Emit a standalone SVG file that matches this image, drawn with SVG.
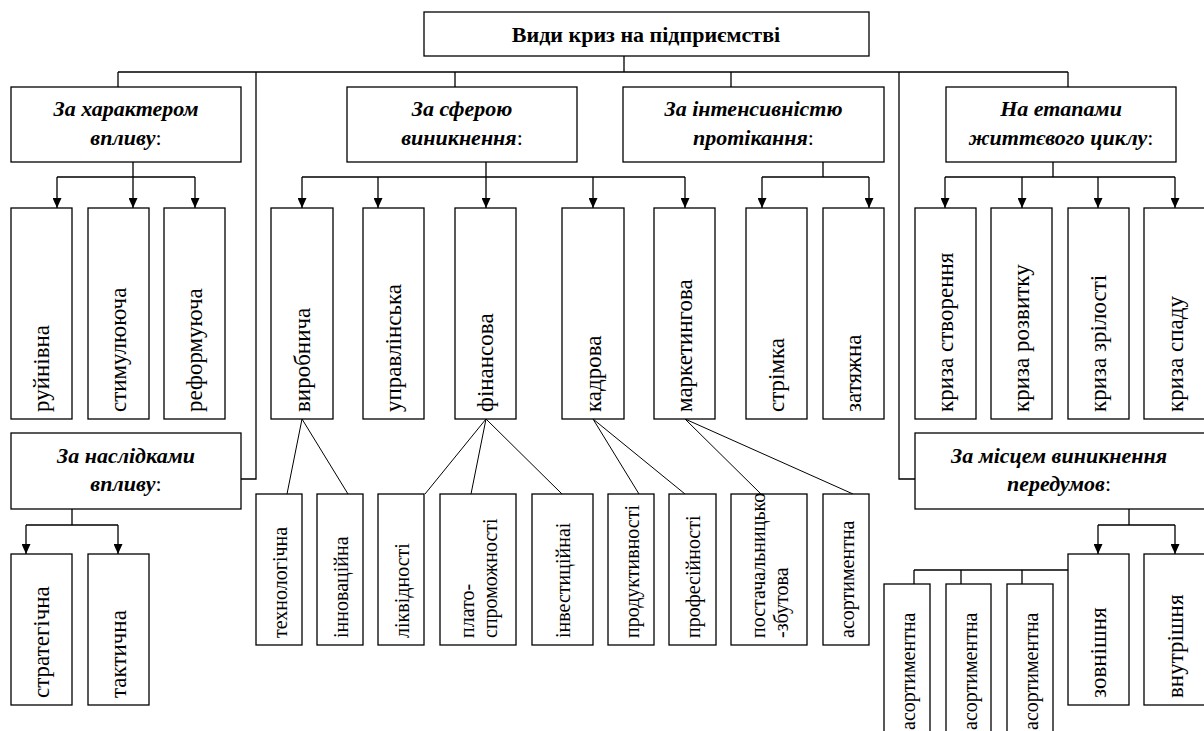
<svg xmlns="http://www.w3.org/2000/svg" width="1204" height="731" viewBox="0 0 1204 731">
<defs>
<marker id="ah" viewBox="0 0 10 9" refX="10" refY="4.5" markerWidth="10" markerHeight="9" markerUnits="userSpaceOnUse" orient="auto">
<path d="M0,0 L10,4.5 L0,9 z" fill="#000"/>
</marker>
<style>
.box{fill:#fff;stroke:#000;stroke-width:1.3}
.ln{fill:none;stroke:#000;stroke-width:1.3}
.ar{fill:none;stroke:#000;stroke-width:1.3;marker-end:url(#ah)}
.dg{fill:none;stroke:#000;stroke-width:1}
</style>
</defs>
<rect x="0" y="0" width="1204" height="731" fill="#fff"/>
<g id="connectors">
<path class="ln" d="M624,56 V72 M118,72 H1068 M118,72 V87 M455,72 V87 M731,72 V87 M1068,72 V87 M256,72 V479 H241 M899,72 V479 H915"/>
<path class="ln" d="M133,162 V177 M57,177 H195 M486,162 V177 M302,177 H685 M823,162 V177 M762,177 H869 M1053,162 V177 M945,177 H1175 M72,509 V525 M26,525 H118 M1129,509 V525 M1098,525 H1175 M914,570 H1068 M914,570 V584 M961,570 V584 M1022,570 V584"/>
<path class="ar" d="M57,177 V208"/><path class="ar" d="M133,177 V208"/><path class="ar" d="M195,177 V208"/>
<path class="ar" d="M302,177 V208"/><path class="ar" d="M378,177 V208"/><path class="ar" d="M486,177 V208"/><path class="ar" d="M593,177 V208"/><path class="ar" d="M685,177 V208"/>
<path class="ar" d="M762,177 V208"/><path class="ar" d="M869,177 V208"/>
<path class="ar" d="M945,177 V208"/><path class="ar" d="M1022,177 V208"/><path class="ar" d="M1098,177 V208"/><path class="ar" d="M1175,177 V208"/>
<path class="ar" d="M26,525 V554"/><path class="ar" d="M118,525 V554"/>
<path class="ar" d="M1098,525 V554"/><path class="ar" d="M1175,525 V554"/>
<path class="dg" d="M302,419 L287,494 M302,419 L348,494 M486,419 L425,494 M486,419 L471,494 M486,419 L562,494 M593,419 L639,494 M593,419 L685,494 M685,419 L761,494 M685,419 L853,494"/>
</g>
<g id="root"><rect class="box" x="424" y="12" width="445" height="44"/><text font-family="Liberation Serif" font-size="22" font-weight="bold" text-anchor="middle" x="646" y="42">Види криз на підприємстві</text></g>
<g id="cat-character"><rect class="box" x="11" y="87" width="230" height="75"/><text font-family="Liberation Serif" font-size="22" font-weight="bold" font-style="italic" text-anchor="middle"><tspan x="126" y="116">За характером</tspan><tspan x="126" y="145">впливу<tspan font-weight="normal" font-style="normal">:</tspan></tspan></text></g>
<g id="cat-sphere"><rect class="box" x="347" y="87" width="230" height="75"/><text font-family="Liberation Serif" font-size="22" font-weight="bold" font-style="italic" text-anchor="middle"><tspan x="462" y="116">За сферою</tspan><tspan x="462" y="145">виникнення<tspan font-weight="normal" font-style="normal">:</tspan></tspan></text></g>
<g id="cat-intensity"><rect class="box" x="623" y="87" width="261" height="75"/><text font-family="Liberation Serif" font-size="22" font-weight="bold" font-style="italic" text-anchor="middle"><tspan x="753.5" y="116">За інтенсивністю</tspan><tspan x="753.5" y="145">протікання<tspan font-weight="normal" font-style="normal">:</tspan></tspan></text></g>
<g id="cat-lifecycle"><rect class="box" x="946" y="87" width="230" height="75"/><text font-family="Liberation Serif" font-size="22" font-weight="bold" font-style="italic" text-anchor="middle"><tspan x="1061" y="116">На етапами</tspan><tspan x="1061" y="145">життєвого циклу<tspan font-weight="normal" font-style="normal">:</tspan></tspan></text></g>
<g id="cat-consequences"><rect class="box" x="11" y="433" width="230" height="76"/><text font-family="Liberation Serif" font-size="22" font-weight="bold" font-style="italic" text-anchor="middle"><tspan x="126" y="463">За наслідками</tspan><tspan x="126" y="491">впливу<tspan font-weight="normal" font-style="normal">:</tspan></tspan></text></g>
<g id="cat-place"><rect class="box" x="915" y="433" width="291" height="76"/><text font-family="Liberation Serif" font-size="22" font-weight="bold" font-style="italic" text-anchor="middle"><tspan x="1059" y="463">За місцем виникнення</tspan><tspan x="1059" y="491">передумов<tspan font-weight="normal" font-style="normal">:</tspan></tspan></text></g>
<g id="n-ruinivna"><rect class="box" x="11" y="208" width="61" height="211"/><text font-family="Liberation Serif" font-size="23" dominant-baseline="central" transform="translate(41.5,412) rotate(-90)">руйнівна</text></g>
<g id="n-stymul"><rect class="box" x="88" y="208" width="61" height="211"/><text font-family="Liberation Serif" font-size="23" dominant-baseline="central" transform="translate(118.5,412) rotate(-90)">стимулююча</text></g>
<g id="n-reform"><rect class="box" x="164" y="208" width="61" height="211"/><text font-family="Liberation Serif" font-size="23" dominant-baseline="central" transform="translate(194.5,412) rotate(-90)">реформуюча</text></g>
<g id="n-vyrob"><rect class="box" x="271" y="208" width="62" height="211"/><text font-family="Liberation Serif" font-size="23" dominant-baseline="central" transform="translate(302,412) rotate(-90)">виробнича</text></g>
<g id="n-uprav"><rect class="box" x="363" y="208" width="61" height="211"/><text font-family="Liberation Serif" font-size="23" dominant-baseline="central" transform="translate(393.5,412) rotate(-90)">управлінська</text></g>
<g id="n-fin"><rect class="box" x="455" y="208" width="61" height="211"/><text font-family="Liberation Serif" font-size="23" dominant-baseline="central" transform="translate(485.5,412) rotate(-90)">фінансова</text></g>
<g id="n-kadr"><rect class="box" x="562" y="208" width="62" height="211"/><text font-family="Liberation Serif" font-size="23" dominant-baseline="central" transform="translate(593,412) rotate(-90)">кадрова</text></g>
<g id="n-market"><rect class="box" x="654" y="208" width="61" height="211"/><text font-family="Liberation Serif" font-size="23" dominant-baseline="central" transform="translate(684.5,412) rotate(-90)">маркетингова</text></g>
<g id="n-strimka"><rect class="box" x="746" y="208" width="61" height="211"/><text font-family="Liberation Serif" font-size="23" dominant-baseline="central" transform="translate(776.5,412) rotate(-90)">стрімка</text></g>
<g id="n-zatyazhna"><rect class="box" x="823" y="208" width="61" height="211"/><text font-family="Liberation Serif" font-size="23" dominant-baseline="central" transform="translate(853.5,412) rotate(-90)">затяжна</text></g>
<g id="n-stvor"><rect class="box" x="915" y="208" width="61" height="211"/><text font-family="Liberation Serif" font-size="23" dominant-baseline="central" transform="translate(945.5,412) rotate(-90)">криза створення</text></g>
<g id="n-rozv"><rect class="box" x="991" y="208" width="61" height="211"/><text font-family="Liberation Serif" font-size="23" dominant-baseline="central" transform="translate(1021.5,412) rotate(-90)">криза розвитку</text></g>
<g id="n-zril"><rect class="box" x="1068" y="208" width="61" height="211"/><text font-family="Liberation Serif" font-size="23" dominant-baseline="central" transform="translate(1098.5,412) rotate(-90)">криза зрілості</text></g>
<g id="n-spad"><rect class="box" x="1144" y="208" width="62" height="211"/><text font-family="Liberation Serif" font-size="23" dominant-baseline="central" transform="translate(1175,412) rotate(-90)">криза спаду</text></g>
<g id="n-strat"><rect class="box" x="11" y="554" width="61" height="151"/><text font-family="Liberation Serif" font-size="23" dominant-baseline="central" transform="translate(41.5,698) rotate(-90)">стратегічна</text></g>
<g id="n-takt"><rect class="box" x="88" y="554" width="61" height="151"/><text font-family="Liberation Serif" font-size="23" dominant-baseline="central" transform="translate(118.5,698) rotate(-90)">тактична</text></g>
<g id="n-zovn"><rect class="box" x="1068" y="554" width="61" height="151"/><text font-family="Liberation Serif" font-size="23" dominant-baseline="central" transform="translate(1098.5,698) rotate(-90)">зовнішня</text></g>
<g id="n-vnutr"><rect class="box" x="1144" y="554" width="62" height="151"/><text font-family="Liberation Serif" font-size="23" dominant-baseline="central" transform="translate(1175,698) rotate(-90)">внутрішня</text></g>
<g id="n-tekhn"><rect class="box" x="256" y="494" width="46" height="151"/><text font-family="Liberation Serif" font-size="20" dominant-baseline="central" transform="translate(280,638) rotate(-90)">технологічна</text></g>
<g id="n-innov"><rect class="box" x="317" y="494" width="46" height="151"/><text font-family="Liberation Serif" font-size="20" dominant-baseline="central" transform="translate(341,638) rotate(-90)">інноваційна</text></g>
<g id="n-likv"><rect class="box" x="378" y="494" width="46" height="151"/><text font-family="Liberation Serif" font-size="20" dominant-baseline="central" transform="translate(402,638) rotate(-90)">ліквідності</text></g>
<g id="n-plato"><rect class="box" x="440" y="494" width="76" height="151"/><text font-family="Liberation Serif" font-size="20" dominant-baseline="central" transform="translate(478,638) rotate(-90)"><tspan x="0" y="-11">плато-</tspan><tspan x="0" y="12">спроможності</tspan></text></g>
<g id="n-invest"><rect class="box" x="532" y="494" width="61" height="151"/><text font-family="Liberation Serif" font-size="20" dominant-baseline="central" transform="translate(563,638) rotate(-90)">інвестиційнаі</text></g>
<g id="n-prod"><rect class="box" x="608" y="494" width="46" height="151"/><text font-family="Liberation Serif" font-size="20" dominant-baseline="central" transform="translate(632,638) rotate(-90)">продуктивності</text></g>
<g id="n-prof"><rect class="box" x="669" y="494" width="47" height="151"/><text font-family="Liberation Serif" font-size="20" dominant-baseline="central" transform="translate(693,638) rotate(-90)">професійності</text></g>
<g id="n-postach"><rect class="box" x="731" y="494" width="76" height="151"/><text font-family="Liberation Serif" font-size="20" dominant-baseline="central" transform="translate(769,638) rotate(-90)"><tspan x="0" y="-11">постачальницько</tspan><tspan x="0" y="12">-збутова</tspan></text></g>
<g id="n-asort"><rect class="box" x="823" y="494" width="46" height="151"/><text font-family="Liberation Serif" font-size="20" dominant-baseline="central" transform="translate(847,638) rotate(-90)">асортиментна</text></g>
<g id="n-asort1"><rect class="box" x="884" y="584" width="46" height="160"/><text font-family="Liberation Serif" font-size="20" dominant-baseline="central" transform="translate(908,730) rotate(-90)">асортиментна</text></g>
<g id="n-asort2"><rect class="box" x="946" y="584" width="45" height="160"/><text font-family="Liberation Serif" font-size="20" dominant-baseline="central" transform="translate(969.5,730) rotate(-90)">асортиментна</text></g>
<g id="n-asort3"><rect class="box" x="1007" y="584" width="46" height="160"/><text font-family="Liberation Serif" font-size="20" dominant-baseline="central" transform="translate(1031,730) rotate(-90)">асортиментна</text></g>
</svg>
